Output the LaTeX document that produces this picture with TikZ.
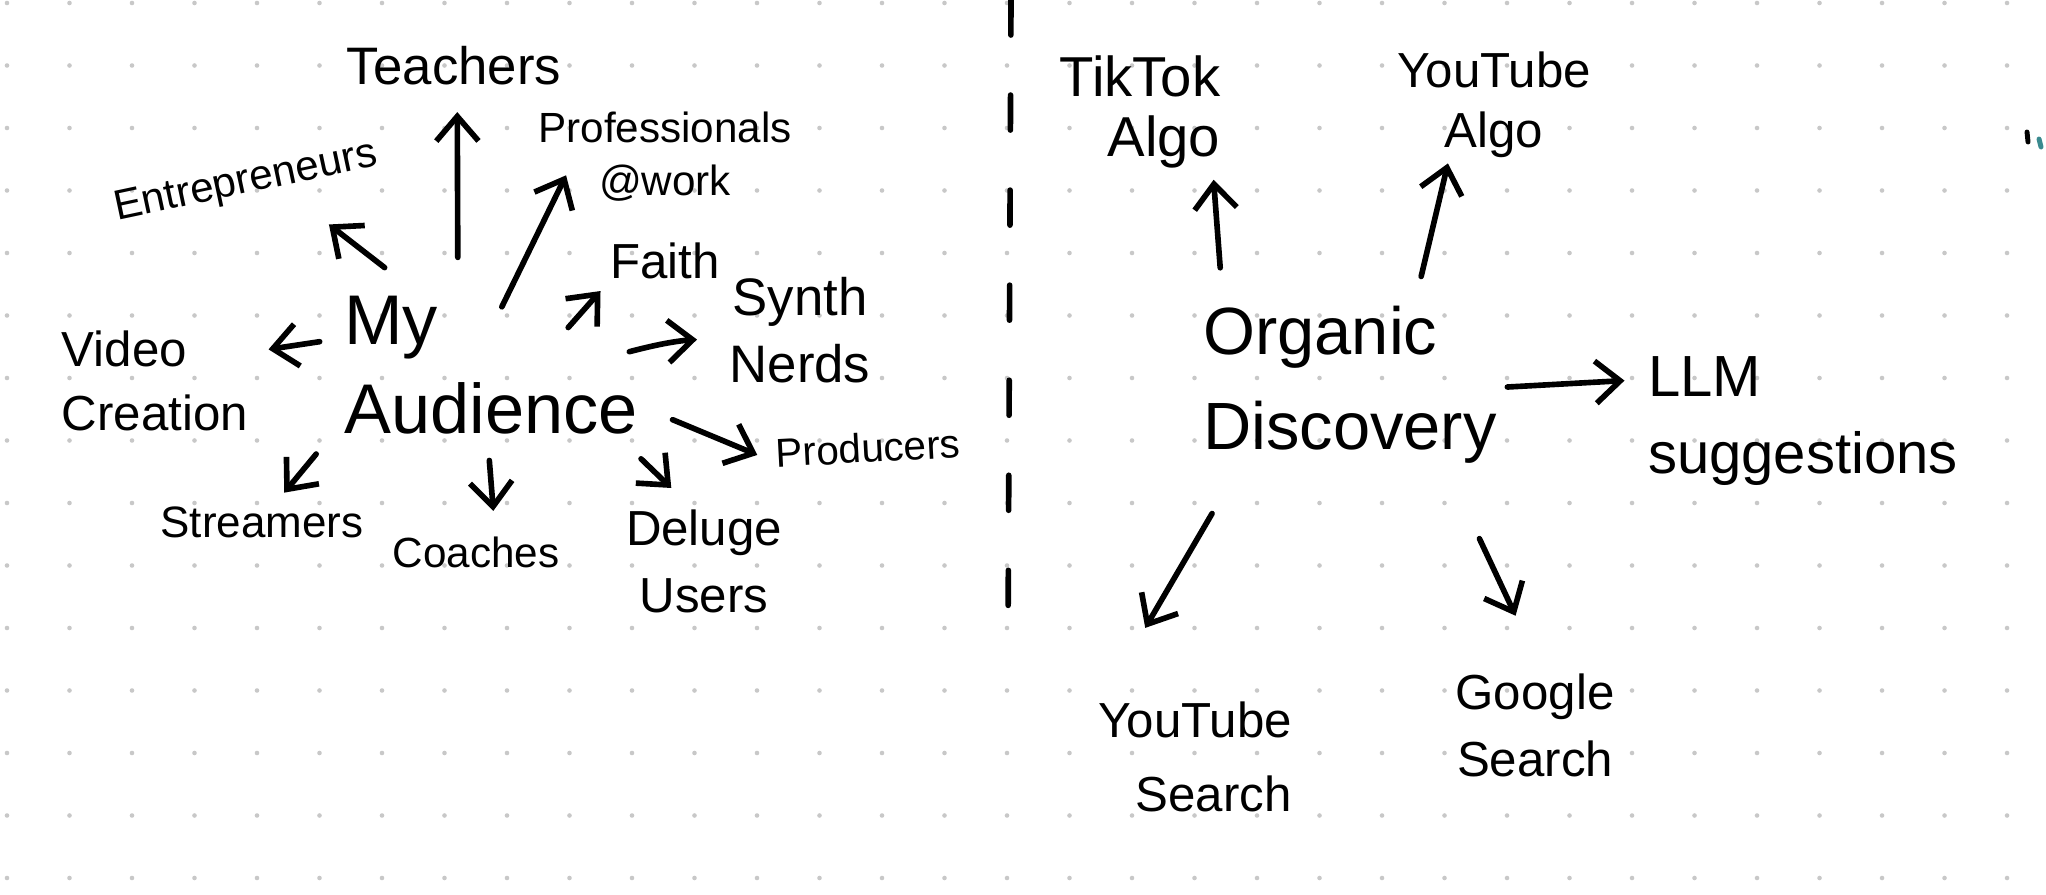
\documentclass[tikz,border=0pt]{standalone}
\usepackage{fontspec}
\setmainfont{Liberation Sans}
\usepackage{xcolor}
\usetikzlibrary{arrows.meta}
\definecolor{dotgray}{HTML}{C8C8C8}
\definecolor{penteal}{HTML}{3A8A8F}

\begin{document}
\begin{tikzpicture}[x=0.01cm,y=-0.01cm,
  lbl/.style={inner sep=0pt,align=center},
  arr/.style={-{Straight Barb[length=7pt,width=12pt]},line width=1.6pt,line cap=round,line join=round}]
  \useasboundingbox (0,0) rectangle (2046,894);
  \fill[white] (0,0) rectangle (2046,894);
  % dot grid
  \foreach \i in {0,...,32}
    \foreach \j in {0,...,14}
      \fill[dotgray] (7+62.5*\i,3+62.5*\j) circle (0.65pt);
  % divider
  \draw[line width=1.6pt,line cap=round,dash pattern=on 3.5mm off 6mm] (1011,0) -- (1008,640);
  % stray pen marks
  \draw[line width=1.4pt,line cap=round] (2027,132) -- (2028,142);
  \draw[penteal,line width=1.4pt,line cap=round] (2039,139) -- (2041,147);

  % left: my audience
  \node[lbl,font=\fontsize{20}{24}\selectfont] (aud) at (491,408) {Audience};
  \node[lbl,font=\fontsize{20}{24}\selectfont] (my) at (391,328) {My};
  \node[lbl,font=\fontsize{15}{18}\selectfont] (teach) at (454,66) {Teachers};
  \node[lbl,font=\fontsize{12}{15}\selectfont,rotate=12] (entre) at (246,183) {Entrepreneurs};
  \node[lbl,font=\fontsize{12}{15}\selectfont] (prof) at (665,157) {Professionals\\@work};
  \node[lbl,font=\fontsize{14}{17}\selectfont] (faith) at (665,261) {Faith};
  \node[lbl,font=\fontsize{15}{19}\selectfont] (synth) at (800,330) {Synth\\Nerds};
  \node[lbl,font=\fontsize{14}{18}\selectfont,align=left] (video) at (155,381) {Video\\Creation};
  \node[lbl,font=\fontsize{11.5}{14}\selectfont,rotate=3] (prod) at (868,448) {Producers};
  \node[lbl,font=\fontsize{12.5}{15}\selectfont] (stream) at (262,522) {Streamers};
  \node[lbl,font=\fontsize{12}{15}\selectfont] (coach) at (476,552) {Coaches};
  \node[lbl,font=\fontsize{14}{19}\selectfont] (deluge) at (704,561) {Deluge\\Users};

  \draw[arr,shorten <=12.4mm,shorten >=2.6mm] (aud.141) -- (teach.-81);
  \draw[arr,shorten <=4.6mm,shorten >=5mm] (my.47) -- (entre.-26);
  \draw[arr,shorten <=8.3mm,shorten >=-3mm] (aud.134) -- (prof.-158);
  \draw[arr,shorten <=7.2mm,shorten >=1.5mm] (aud.42) -- (faith.-161);
  \draw[arr,shorten <=6.4mm,shorten >=3.2mm] (aud.18) to[bend left=12] (synth.186);
  \draw[arr,shorten <=3.7mm,shorten >=2mm] (aud.1) -- (prod.186);
  \draw[arr,shorten <=3.5mm,shorten >=3mm] (aud.-12) -- (deluge.102);
  \draw[arr,shorten <=2.6mm,shorten >=2.5mm] (aud.-98) -- (coach.40);
  \draw[arr,shorten <=4.3mm,shorten >=1.7mm] (aud.185) -- (stream.55);
  \draw[arr,shorten <=2.4mm,shorten >=2mm] (my.192) -- (video.17);

  % right: organic discovery
  \node[lbl,font=\fontsize{19}{27}\selectfont,align=left] (org) at (1350,385) {Organic\\Discovery};
  \node[lbl,font=\fontsize{16}{17}\selectfont,align=right] (tiktok) at (1140,112) {TikTok\\Algo};
  \node[lbl,font=\fontsize{14}{17}\selectfont] (ytalgo) at (1494,105) {YouTube\\Algo};
  \node[lbl,font=\fontsize{16.5}{22}\selectfont,align=left] (llm) at (1803,421) {LLM\\suggestions};
  \node[lbl,font=\fontsize{14}{21}\selectfont,align=right] (ytsearch) at (1195,757) {YouTube\\Search};
  \node[lbl,font=\fontsize{14}{19}\selectfont] (google) at (1535,725) {Google\\Search};

  \draw[arr,shorten <=3.8mm,shorten >=1.1mm] (org.148) -- (tiktok.-38);
  \draw[arr,shorten <=3mm,shorten >=0.5mm] (org.51) -- (ytalgo.-130);
  \draw[arr,shorten <=1mm,shorten >=2.3mm] (org.-1) -- (llm.165);
  \draw[arr,shorten <=5.7mm,shorten >=8.5mm] (org.-144) -- (ytsearch.149);
  \draw[arr,shorten <=8.2mm,shorten >=6.3mm] (org.-40) -- (google.82);
\end{tikzpicture}
\end{document}
